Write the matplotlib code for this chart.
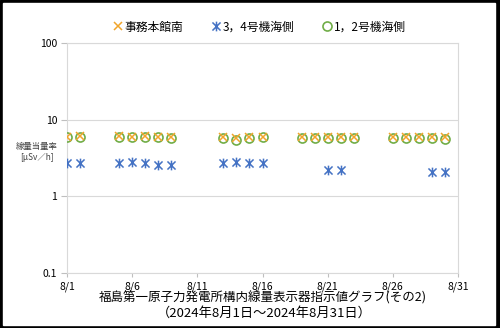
import matplotlib
matplotlib.use("Agg")
import matplotlib.pyplot as plt
from matplotlib.path import Path
from matplotlib.patches import Rectangle

plt.rcParams['font.family'] = ['Noto Sans CJK JP', 'DejaVu Sans']

# readings (uSv/h), day of August
days_office = [1, 2, 5, 6, 7, 8, 9, 13, 14, 15, 16, 19, 20, 21, 22, 23, 26, 27, 28, 29, 30]
office = [6.0, 6.1, 6.1, 6.0, 6.1, 6.0, 5.9, 6.0, 5.7, 6.0, 6.0, 6.0, 5.9, 6.0, 6.0, 6.0, 6.0, 6.0, 6.0, 5.9, 5.9]
days_u12 = days_office
u12 = [5.9, 6.0, 6.0, 5.9, 6.0, 5.9, 5.8, 5.8, 5.5, 5.8, 5.9, 5.8, 5.7, 5.8, 5.8, 5.8, 5.8, 5.8, 5.8, 5.7, 5.6]
days_u34 = [1, 2, 5, 6, 7, 8, 9, 13, 14, 15, 16, 21, 22, 29, 30]
u34 = [2.7, 2.7, 2.7, 2.8, 2.7, 2.6, 2.6, 2.7, 2.8, 2.7, 2.7, 2.2, 2.2, 2.1, 2.1]

xticks = [1, 6, 11, 16, 21, 26, 31]
xticklabels = ['8/1', '8/6', '8/11', '8/16', '8/21', '8/26', '8/31']
yticks = [0.1, 1, 10, 100]
yticklabels = ['0.1', '1', '10', '100']

names = ['事務本館南', '3，4号機海側', '1，2号機海側']
c_orange = '#F0A52C'
c_blue = '#4472C4'
c_green = '#70AD47'

star = Path([(-1, -1), (1, 1), (-1, 1), (1, -1), (0, -1.2), (0, 1.2)],
            [Path.MOVETO, Path.LINETO, Path.MOVETO, Path.LINETO, Path.MOVETO, Path.LINETO])

fig = plt.figure(figsize=(5, 3.28), dpi=100)
fig.patches.append(Rectangle((0, 0), 1, 1, transform=fig.transFigure, color='black', zorder=-2))
fig.patches.append(Rectangle((3 / 500, 3 / 328), 492 / 500, 322 / 328,
                             transform=fig.transFigure, color='white', zorder=-1))

ax = fig.add_axes([67 / 500, 1 - 273 / 328, 391 / 500, 230 / 328])
ax.set_facecolor('none')
ax.plot(days_office, office, ls='none', marker='x', ms=5.5, mew=1.1, color=c_orange,
        label=names[0], zorder=4)
ax.plot(days_u34, u34, ls='none', marker=star, ms=7, mew=1.1, color=c_blue,
        label=names[1], zorder=3)
ax.plot(days_u12, u12, ls='none', marker='o', ms=6.5, mew=1.2, mfc='none', color=c_green,
        label=names[2], zorder=3)

ax.set_yscale('log')
ax.set_ylim(0.1, 100)
ax.set_xlim(1, 31)
ax.set_yticks(yticks)
ax.set_yticklabels(yticklabels)
ax.minorticks_off()
ax.set_xticks(xticks)
ax.set_xticklabels(xticklabels)
ax.tick_params(axis='both', labelsize=7.5, color='#BFBFBF', length=3, pad=3)
ax.tick_params(axis='y', length=4)
ax.grid(axis='y', color='#D9D9D9', lw=0.8)
for s in ['left', 'right', 'bottom', 'top']:
    ax.spines[s].set_color('#D9D9D9')
    ax.spines[s].set_linewidth(0.8)

leg = ax.legend(loc='center', bbox_to_anchor=(0.492, 1 + 16 / 230), ncol=3, frameon=False,
                fontsize=8.5, handletextpad=0.15, columnspacing=2.3, handlelength=0.9,
                markerscale=1.0)

fig.text(37 / 500, 1 - 146 / 328, '線量当量率', fontsize=6, ha='center', va='center', color='#404040')
fig.text(37 / 500, 1 - 157 / 328, '[μSv／h]', fontsize=6, ha='center', va='center', color='#404040')

fig.text(263 / 500, 1 - 298 / 328, '福島第一原子力発電所構内線量表示器指示値グラフ(その2)',
         fontsize=9, ha='center', va='center')
fig.text(264 / 500, 1 - 313 / 328, '（2024年8月1日～2024年8月31日）',
         fontsize=9.5, ha='center', va='center')

fig.savefig('out.png', dpi=100)
